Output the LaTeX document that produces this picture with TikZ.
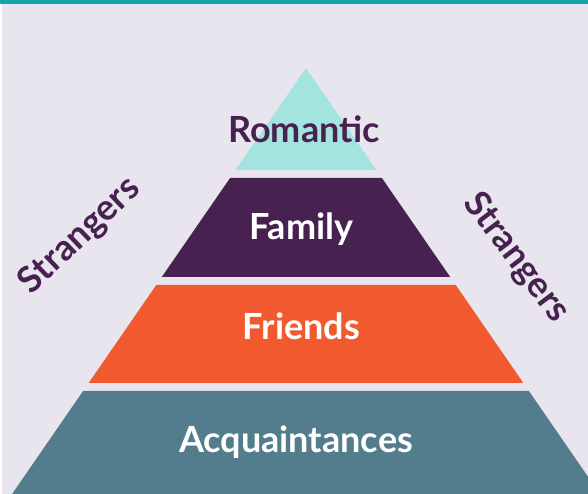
\documentclass[tikz,border=0pt]{standalone}
\usepackage{fontspec}
\setmainfont{Lato}
\definecolor{topbar}{HTML}{12A6A9}
\definecolor{backdrop}{HTML}{E8E5EF}
\definecolor{mint}{HTML}{A3E4DF}
\definecolor{plum}{HTML}{47214F}
\definecolor{coral}{HTML}{F05A2E}
\definecolor{slate}{HTML}{537C8C}
\tikzset{
  layertext/.style={font=\fontsize{36}{40}\selectfont\bfseries, inner sep=0pt, anchor=base},
  sidetext/.style={font=\fontsize{36}{40}\selectfont\bfseries, inner sep=0pt, text=plum},
}
\begin{document}
\begin{tikzpicture}[x=1pt,y=1pt]
	\useasboundingbox (0,0) rectangle (588,494);
	\clip (0,0) rectangle (588,494);
	\fill[white] (0,0) rectangle (588,494);
	\fill[backdrop] (2,0) rectangle (588,490);
	\fill[topbar] (0,490) rectangle (588,494);

	% layers: name / top / bottom (pixels from the top) / fill / text colour / text x / baseline / text
	\foreach \n/\t/\b/\c/\tc/\tx/\ty/\txt in {romantic/68/170/mint/plum/304/143/Romantic, family/178/277/plum/white/301.5/240/Family, friends/285/383/coral/white/301.5/340/Friends, acquaint/391/494/slate/white/296/453/Acquaintances}{
		\fill[\c] ({306-0.69*(\t-68)},{494-\t}) -- ({306+0.69*(\t-68)},{494-\t}) -- ({306+0.69*(\b-68)},{494-\b}) -- ({306-0.69*(\b-68)},{494-\b}) -- cycle;
		\node[layertext, text=\tc] (\n) at (\tx,{494-\ty}) {\txt};
	}

	\node[sidetext, rotate=43.5] (strangersleft) at (80,258) {Strangers};
	\node[sidetext, rotate=-53] (strangersright) at (516,236) {Strangers};
\end{tikzpicture}
\end{document}
